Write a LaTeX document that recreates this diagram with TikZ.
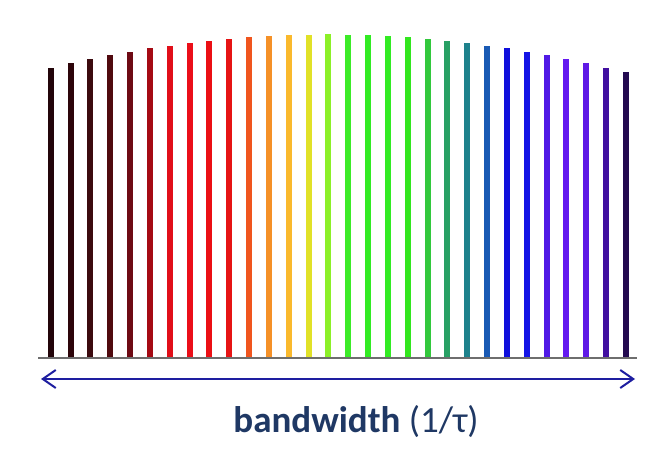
\documentclass[tikz,border=0pt]{standalone}
\usepackage{fontspec}
\setmainfont{Carlito}
\usetikzlibrary{arrows.meta}
\definecolor{navytext}{RGB}{31,56,100}
\definecolor{arrowblue}{RGB}{30,30,160}
\definecolor{c1}{RGB}{35,5,10}
\definecolor{c2}{RGB}{45,5,10}
\definecolor{c3}{RGB}{60,10,15}
\definecolor{c4}{RGB}{80,10,15}
\definecolor{c5}{RGB}{110,10,20}
\definecolor{c6}{RGB}{165,10,20}
\definecolor{c7}{RGB}{225,15,25}
\definecolor{c8}{RGB}{235,15,25}
\definecolor{c9}{RGB}{235,15,20}
\definecolor{c10}{RGB}{230,20,20}
\definecolor{c11}{RGB}{240,85,30}
\definecolor{c12}{RGB}{245,145,40}
\definecolor{c13}{RGB}{250,185,45}
\definecolor{c14}{RGB}{225,225,40}
\definecolor{c15}{RGB}{140,240,40}
\definecolor{c16}{RGB}{60,235,40}
\definecolor{c17}{RGB}{50,235,35}
\definecolor{c18}{RGB}{50,235,35}
\definecolor{c19}{RGB}{50,230,30}
\definecolor{c20}{RGB}{50,200,60}
\definecolor{c21}{RGB}{40,160,100}
\definecolor{c22}{RGB}{30,130,140}
\definecolor{c23}{RGB}{25,90,180}
\definecolor{c24}{RGB}{15,15,220}
\definecolor{c25}{RGB}{20,20,230}
\definecolor{c26}{RGB}{80,25,230}
\definecolor{c27}{RGB}{100,25,240}
\definecolor{c28}{RGB}{95,25,230}
\definecolor{c29}{RGB}{65,15,160}
\definecolor{c30}{RGB}{35,10,80}
\tikzset{
  specbar/.style={line width=6pt, line cap=butt},
  baseline rule/.style={line width=1.5pt, draw={rgb,255:red,110;green,110;blue,110}},
  bwarrow/.style={line width=2pt, draw=arrowblue, {Straight Barb[length=13pt,width=18pt,line width=2pt]}-{Straight Barb[length=13pt,width=18pt,line width=2pt]}},
  bwlabel/.style={text=navytext, font=\fontsize{37}{42}\selectfont, inner sep=0pt}
}
\begin{document}
\begin{tikzpicture}[x=1pt,y=-1pt]
\useasboundingbox (0,0) rectangle (670,465);
\foreach \i/\t in {1/67.7,2/63.3,3/59.3,4/55,5/51.7,6/48.3,7/45.7,8/43.3,9/40.7,10/39,11/37.3,12/35.7,13/34.7,14/34.7,15/34,16/34.7,17/34.7,18/35.7,19/37.3,20/39,21/40.7,22/43.3,23/45.7,24/48.3,25/51.7,26/55,27/59.3,28/63.3,29/67.7,30/72.3}{
  \draw[specbar, draw=c\i] ({50.8+(\i-1)*19.83},358) -- ({50.8+(\i-1)*19.83},\t);
}
\coordinate (bl) at (38,358);
\coordinate (br) at (637,358);
\draw[baseline rule] (bl) -- (br);
\coordinate (al) at (41,379);
\coordinate (ar) at (635,379);
\draw[bwarrow] (al) -- (ar);
\node[bwlabel] (label) at (356,422) {\textbf{bandwidth} (1/τ)};
\end{tikzpicture}
\end{document}
